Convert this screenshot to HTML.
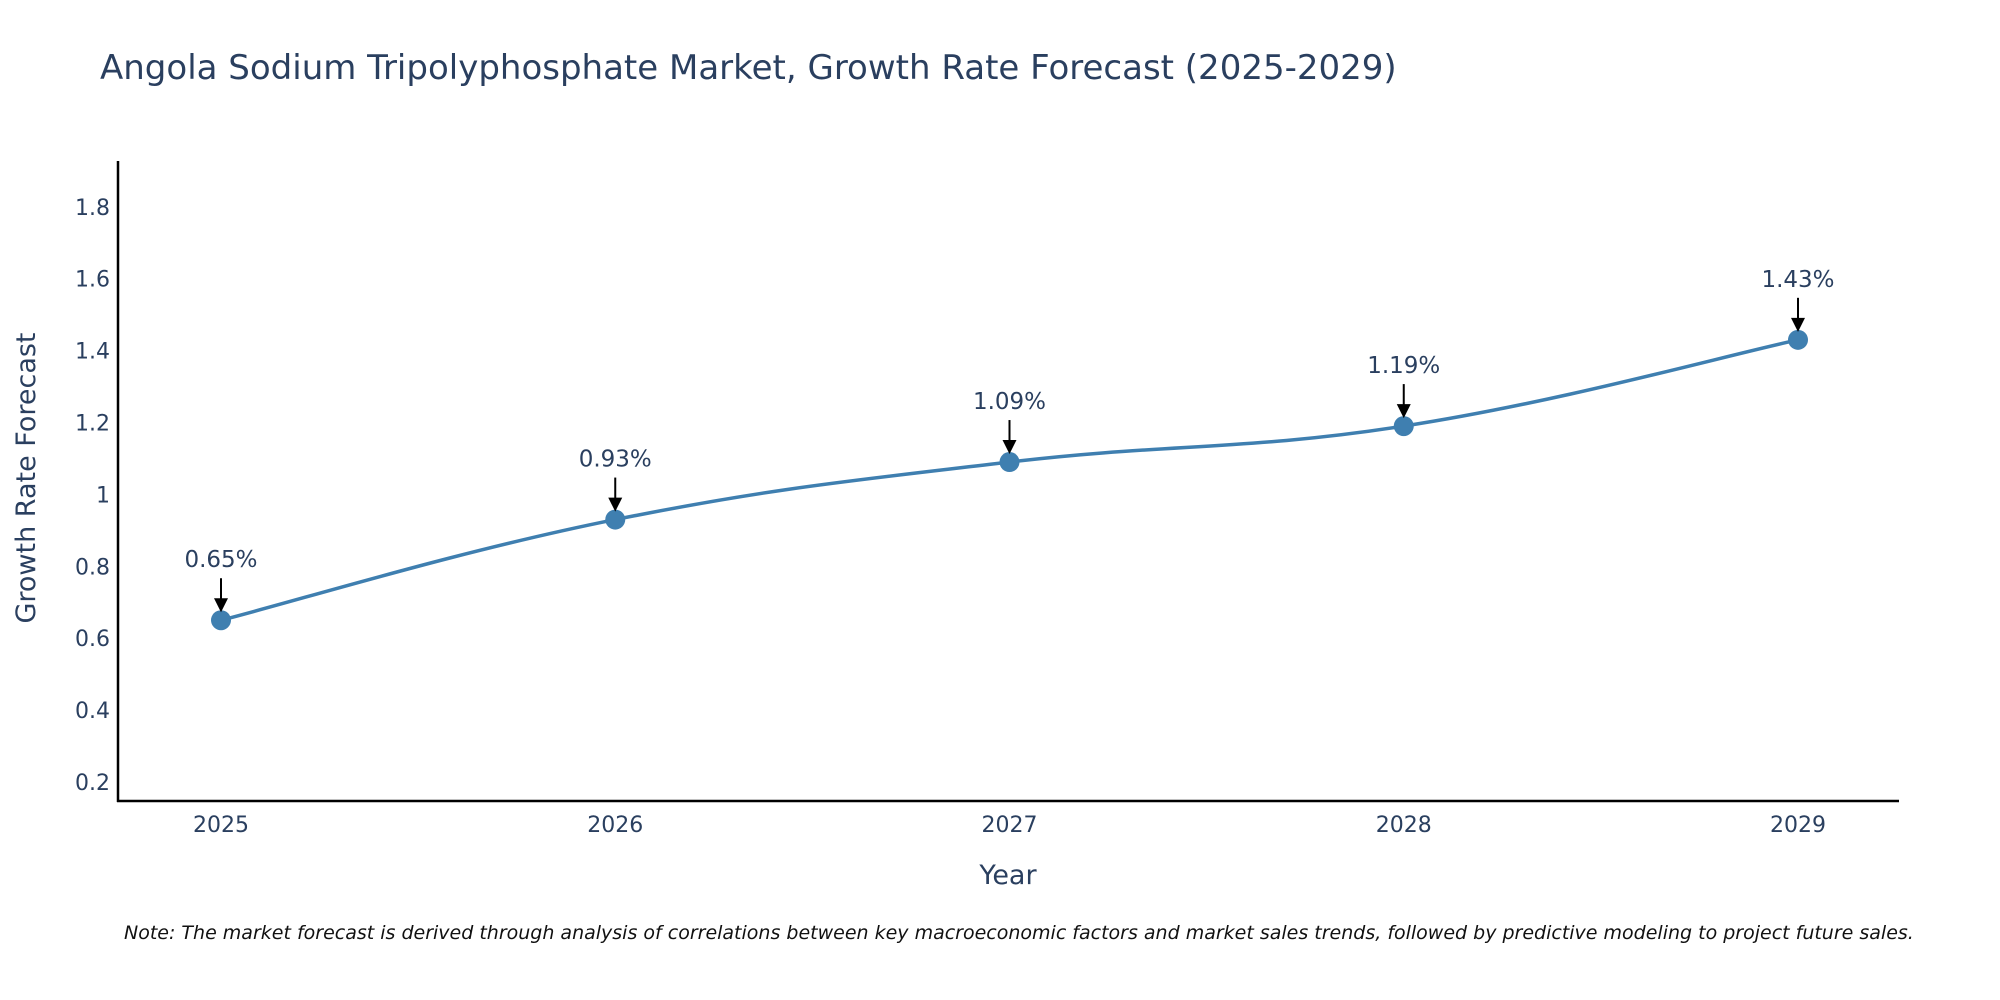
<!DOCTYPE html>
<html><head><meta charset="utf-8"><style>
body{margin:0;background:#fff;}
svg{display:block;font-family:"DejaVu Sans","Liberation Sans",sans-serif;}
</style></head><body>
<svg id="chart" width="2000" height="1000" viewBox="0 0 2000 1000">
<text x="100" y="79" font-size="34" fill="#2a3f5f">Angola Sodium Tripolyphosphate Market, Growth Rate Forecast (2025-2029)</text>
<g id="yticks"></g>
<g id="xticks"></g>
<line x1="118" y1="161" x2="118" y2="802" stroke="#000" stroke-width="2.5"/>
<line x1="117" y1="801" x2="1899" y2="801" stroke="#000" stroke-width="2.5"/>
<path id="series-line" fill="none" stroke="#3f7fb0" stroke-width="3.5"/>
<g id="points"></g>
<g id="annots"></g>
<text x="1008" y="884" font-size="27" fill="#2a3f5f" text-anchor="middle">Year</text>
<text transform="translate(35,478) rotate(-90)" font-size="27" fill="#2a3f5f" text-anchor="middle">Growth Rate Forecast</text>
<text x="124" y="939" font-size="19" font-style="italic" fill="#111">Note: The market forecast is derived through analysis of correlations between key macroeconomic factors and market sales trends, followed by predictive modeling to project future sales.</text>
</svg>
<script>
const years = [2025, 2026, 2027, 2028, 2029];
const growthValues = [0.65, 0.93, 1.09, 1.19, 1.43];
const valueLabels = ["0.65%", "0.93%", "1.09%", "1.19%", "1.43%"];
const yTickValues = [0.2, 0.4, 0.6, 0.8, 1, 1.2, 1.4, 1.6, 1.8];
const yTickLabels = ["0.2", "0.4", "0.6", "0.8", "1", "1.2", "1.4", "1.6", "1.8"];

const NS = "http://www.w3.org/2000/svg";
function xScale(yr){ return 221 + (yr - years[0]) * (1798 - 221) / 4; }
function yScale(v){ return 782 - (v - 0.2) / 0.2 * 71.9; }
function mk(tag, attrs, parent){ const e = document.createElementNS(NS, tag); for (const k in attrs) e.setAttribute(k, attrs[k]); parent.appendChild(e); return e; }

const yt = document.getElementById('yticks');
yTickValues.forEach((v, i) => {
  const t = mk('text', {x: 110, y: yScale(v) + 8, 'font-size': 22, fill: '#2a3f5f', 'text-anchor': 'end'}, yt);
  
  
  t.textContent = yTickLabels[i];
});
const xt = document.getElementById('xticks');
years.forEach(yr => {
  const t = mk('text', {x: xScale(yr), y: 832, 'font-size': 22, fill: '#2a3f5f', 'text-anchor': 'middle'}, xt);
  
  
  t.textContent = yr;
});

const pts = years.map((yr, i) => [xScale(yr), yScale(growthValues[i])]);
let d = `M${pts[0][0]},${pts[0][1]}`;
const s = 0.2;
for (let i = 0; i < pts.length - 1; i++) {
  const p0 = pts[i - 1] || pts[i], p1 = pts[i], p2 = pts[i + 1], p3 = pts[i + 2] || p2;
  const c1 = [p1[0] + (p2[0] - p0[0]) * s, p1[1] + (p2[1] - p0[1]) * s];
  const c2 = [p2[0] - (p3[0] - p1[0]) * s, p2[1] - (p3[1] - p1[1]) * s];
  d += ` C${c1[0]},${c1[1]} ${c2[0]},${c2[1]} ${p2[0]},${p2[1]}`;
}
document.getElementById('series-line').setAttribute('d', d);

const pg = document.getElementById('points');
const ag = document.getElementById('annots');
pts.forEach((p, i) => {
  const c = mk('circle', {cx: p[0], cy: p[1], r: 10, fill: '#3f7fb0'}, pg);
  
  
  const l = mk('line', {x1: p[0], y1: p[1] - 42, x2: p[0], y2: p[1] - 20, stroke: '#000', 'stroke-width': 2}, ag);
  
  
  const h = mk('polygon', {points: `${p[0]-7},${p[1]-22} ${p[0]+7},${p[1]-22} ${p[0]},${p[1]-8}`, fill: '#000'}, ag);
  
  
  const t = mk('text', {x: p[0], y: p[1] - 53, 'font-size': 23, fill: '#2a3f5f', 'text-anchor': 'middle'}, ag);
  
  
  t.textContent = valueLabels[i];
});
</script>
</body></html>
